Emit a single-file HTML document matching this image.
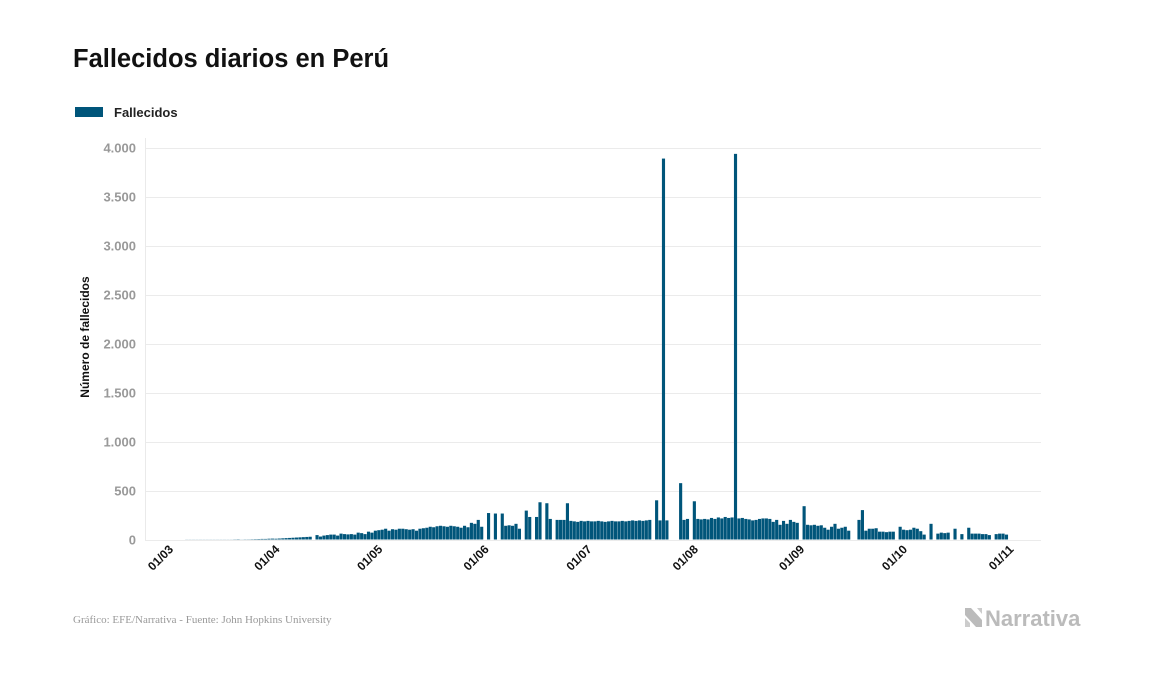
<!DOCTYPE html>
<html><head><meta charset="utf-8"><style>
body{margin:0;background:#fff;width:1157px;height:674px;overflow:hidden;font-family:"Liberation Sans",sans-serif}
</style></head><body>
<svg width="1157" height="674" xmlns="http://www.w3.org/2000/svg">
<text x="73" y="67" font-size="25.5" font-weight="bold" fill="#111">Fallecidos diarios en Perú</text>
<rect x="75" y="107" width="28" height="10" fill="#00557a"/>
<text x="114" y="117" font-size="13" font-weight="bold" fill="#222">Fallecidos</text>
<g id="grid"></g>
<line x1="145.5" y1="138" x2="145.5" y2="540" stroke="#eaeaea"/>
<g id="bars"></g>
<g id="xl"></g>
<text transform="translate(89,337) rotate(-90)" text-anchor="middle" font-size="12" font-weight="bold" fill="#111">Número de fallecidos</text>
<text x="73" y="623" font-family="Liberation Serif,serif" font-size="11" fill="#999">Gráfico: EFE/Narrativa - Fuente: John Hopkins University</text>
<g>
<path d="M965 608 L971 608 L982 620 L982 627 L976 627 L965 615 Z" fill="#bbb"/>
<path d="M965 618 L970 623 L970 627 L965 627 Z M977 608 L982 608 L982 614 Z" fill="#ccc"/>
<text x="985" y="626" font-size="22" font-weight="bold" fill="#bbb">Narrativa</text>
</g>
</svg>
<script>
const yTicks=[0,500,1000,1500,2000,2500,3000,3500,4000];
const yTickLabels=["0","500","1.000","1.500","2.000","2.500","3.000","3.500","4.000"];
const xTickDays=[0,31,61,92,122,153,184,214,245];
const xTickLabels=["01/03","01/04","01/05","01/06","01/07","01/08","01/09","01/10","01/11"];
const deathsMar=[0,0,0,0,0,1,1,1,1,1,1,1,1,1,1,1,1,1,1,2,3,1,2,2,3,4,5,6,6,8,9];
const deathsApr=[8,10,12,14,16,18,20,22,24,26,28,0,45,30,40,45,50,50,40,60,55,52,55,50,70,65,55,80,70,90];
const deathsMay=[95,100,110,90,105,100,110,110,105,100,105,90,110,115,120,130,125,135,140,135,130,140,135,130,120,140,125,170,160,200,130];
const deathsJun=[0,270,0,265,0,265,140,145,140,160,110,0,295,230,0,230,380,0,370,210,0,200,200,200,370,190,185,180,190,185];
const deathsJul=[190,185,185,190,185,180,185,190,185,185,190,185,190,195,190,195,190,195,200,0,400,195,3887,195,0,0,0,575,200,210,0];
const deathsAug=[390,210,205,210,205,220,210,225,215,230,220,225,3935,215,220,210,205,195,200,210,215,215,210,180,200,150,190,160,200,180,170];
const deathsSep=[0,340,150,145,150,140,145,120,100,130,160,110,120,130,90,0,0,200,300,90,110,110,115,80,80,75,80,80,0,130];
const deathsOct=[100,95,100,120,110,85,50,0,160,0,60,70,65,70,0,110,0,55,0,120,60,60,60,55,55,45,0,55,60,60,50];
const values=[].concat(deathsMar,deathsApr,deathsMay,deathsJun,deathsJul,deathsAug,deathsSep,deathsOct);
const NS="http://www.w3.org/2000/svg";
const X0=168,PPD=3.43,Y0=539.5,PPU=98/1000;
const xs=d=>X0+d*PPD, ys=v=>Y0-v*PPU;
const grid=document.getElementById('grid');
yTicks.forEach((t,i)=>{
 const l=document.createElementNS(NS,'line');
 l.setAttribute('x1',145);l.setAttribute('x2',1041);l.setAttribute('y1',Math.round(ys(t))+0.5);l.setAttribute('y2',Math.round(ys(t))+0.5);
 l.setAttribute('stroke','#ebebeb');
 
 
 grid.appendChild(l);
 const tx=document.createElementNS(NS,'text');
 tx.setAttribute('x',136);tx.setAttribute('y',ys(t)+5);tx.setAttribute('text-anchor','end');
 tx.setAttribute('font-size','13');tx.setAttribute('font-weight','bold');tx.setAttribute('fill','#999');
 tx.textContent=yTickLabels[i];
 
 
 grid.appendChild(tx);
});
const bars=document.getElementById('bars');
values.forEach((v,d)=>{
 if(v<=0)return;
 const r=document.createElementNS(NS,'rect');
 r.setAttribute('x',xs(d));r.setAttribute('width',PPD-0.3);
 r.setAttribute('y',ys(v));r.setAttribute('height',Y0-ys(v));
 r.setAttribute('fill','#00557a');
 
 
 bars.appendChild(r);
});
const xl=document.getElementById('xl');
xTickDays.forEach((d,i)=>{
 const t=document.createElementNS(NS,'text');
 const x=xs(d)+6;
 t.setAttribute('transform','translate('+x+',550) rotate(-45)');
 t.setAttribute('text-anchor','end');t.setAttribute('font-size','12');t.setAttribute('font-weight','bold');t.setAttribute('fill','#111');
 t.textContent=xTickLabels[i];
 
 
 xl.appendChild(t);
});
</script>
</body></html>
